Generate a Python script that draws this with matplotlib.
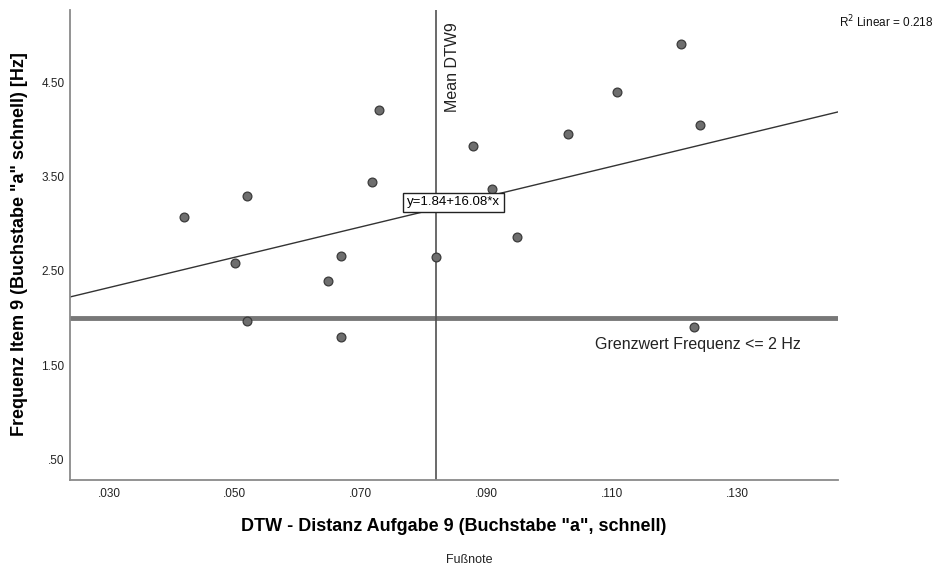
import matplotlib.pyplot as plt
import numpy as np

plt.rcParams['font.family'] = ['Liberation Sans', 'DejaVu Sans']

# DTW distance (x) vs. frequency item 9 (y)
dtw = [0.0419, 0.0519, 0.0500, 0.0519, 0.0649, 0.0669, 0.0669, 0.0719, 0.0730,
       0.0820, 0.0880, 0.0910, 0.0950, 0.1030, 0.1109, 0.1210, 0.1241, 0.1231]
freq = [3.07, 3.29, 2.58, 1.97, 2.39, 2.66, 1.80, 3.44, 4.21,
        2.65, 3.83, 3.37, 2.86, 3.95, 4.40, 4.91, 4.05, 1.90]

intercept = 1.84
slope = 16.08
r2 = 0.218
mean_dtw = 0.0820
grenzwert = 2.0

xticks = [0.03, 0.05, 0.07, 0.09, 0.11, 0.13]
xticklabels = ['.030', '.050', '.070', '.090', '.110', '.130']
yticks = [0.5, 1.5, 2.5, 3.5, 4.5]
yticklabels = ['.50', '1.50', '2.50', '3.50', '4.50']

fig = plt.figure(figsize=(9.39, 5.70), dpi=100)
ax = fig.add_axes([0.0745, 0.158, 0.818, 0.8245])

ax.set_xlim(0.0238, 0.1460)
ax.set_ylim(0.28, 5.27)

# threshold line and mean line
ax.axhline(grenzwert, color='#787878', lw=3.5, zorder=1)
ax.axvline(mean_dtw, color='#505050', lw=1.2, zorder=1)

# regression line
ax.axline((0, intercept), slope=slope, color='#333333', lw=1.0, zorder=2)

ax.scatter(dtw, freq, s=40, facecolor='#6e6e6e', edgecolor='#3a3a3a',
           linewidth=0.9, zorder=3)

ax.set_xticks(xticks)
ax.set_xticklabels(xticklabels)
ax.set_yticks(yticks)
ax.set_yticklabels(yticklabels)
ax.tick_params(length=0, labelsize=8.5, colors='#222222')
ax.tick_params(axis='y', pad=4)
ax.tick_params(axis='x', pad=6)

for side in ['top', 'right']:
    ax.spines[side].set_visible(False)
for side in ['left', 'bottom']:
    ax.spines[side].set_color('#8a8a8a')
    ax.spines[side].set_linewidth(1.3)

ax.set_xlabel('DTW - Distanz Aufgabe 9 (Buchstabe "a", schnell)',
              fontsize=13, fontweight='bold')
ax.set_ylabel('Frequenz Item 9 (Buchstabe "a" schnell) [Hz]',
              fontsize=13, fontweight='bold')
ax.xaxis.set_label_coords(0.5, -0.08)
ax.yaxis.set_label_coords(-0.055, 0.502)

# annotations
ax.text(mean_dtw + 0.0014, 5.14, 'Mean DTW9', rotation=90, ha='left', va='top',
        fontsize=11.5, color='#222222')
ax.text(0.0848, 3.226, 'y=1.84+16.08*x', ha='center', va='center', fontsize=9.5,
        bbox=dict(boxstyle='square,pad=0.3', fc='white', ec='#222222', lw=1),
        zorder=4)
ax.text(0.1400, 1.72, 'Grenzwert Frequenz <= 2 Hz', ha='right', va='center',
        fontsize=11.5, color='#222222')

fig.text(0.9935, 0.962, 'R$^2$ Linear = %.3f' % r2, ha='right', va='center',
         fontsize=8.5, color='#111111')
fig.text(0.5, 0.018, 'Fußnote', ha='center', va='center', fontsize=9,
         color='#222222')

fig.savefig('out.png', dpi=100)
